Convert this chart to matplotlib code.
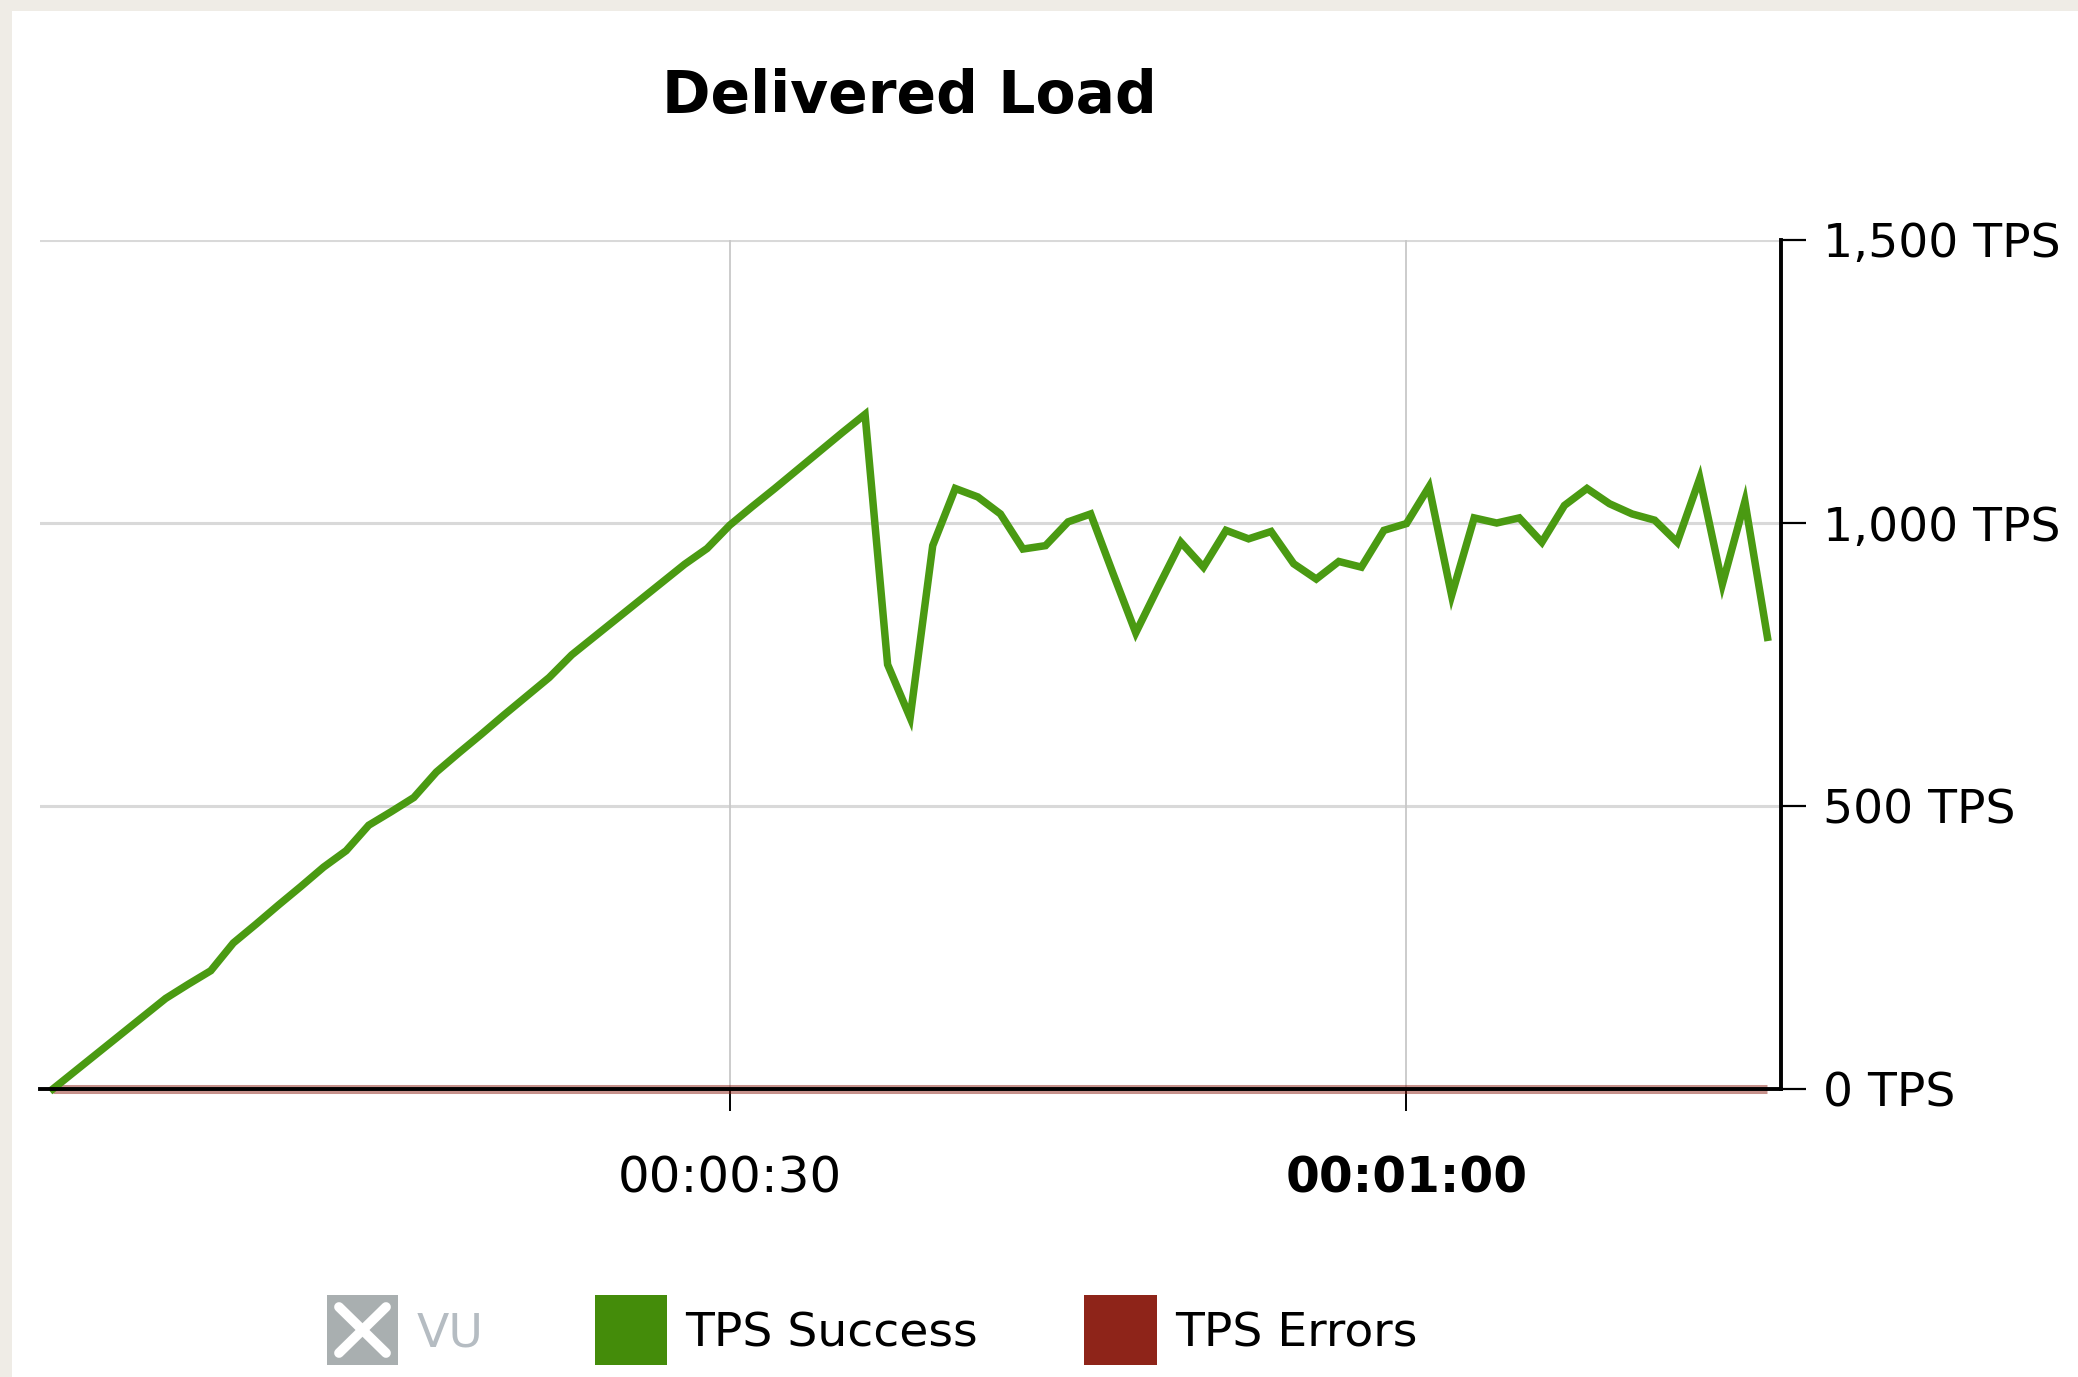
import matplotlib
matplotlib.use("Agg")
import matplotlib.pyplot as plt
from matplotlib.patches import Rectangle
from matplotlib.lines import Line2D
from matplotlib.ticker import FuncFormatter

# ---- data ----
seconds = list(range(77))
tps_success = [
    0, 32, 64, 96, 128, 160, 185, 209, 258, 291,
    325, 358, 392, 421, 466, 490, 515, 560, 594, 627,
    661, 694, 727, 767, 799, 831, 863, 895, 927, 955,
    996, 1029, 1061, 1094, 1127, 1160, 1192, 750, 656, 960,
    1061, 1046, 1016, 954, 960, 1002, 1016, 910, 806, 887,
    966, 922, 987, 972, 985, 928, 901, 932, 922, 987,
    999, 1064, 872, 1009, 1000, 1009, 966, 1031, 1061, 1034,
    1016, 1005, 966, 1079, 892, 1038, 798,
]
tps_errors = [0] * 77
y_ticks = [0, 500, 1000, 1500]
x_ticks = [30, 60]
x_tick_labels = ["00:00:30", "00:01:00"]
legend_labels = ["VU", "TPS Success", "TPS Errors"]
title = "Delivered Load"

W, H = 2078, 1377
GREEN = "#4A9A12"
RED = "#8E2419"
GRAY = "#A9AFB0"

fig = plt.figure(figsize=(W / 100, H / 100), dpi=100, facecolor="white")
plt.rcParams['font.family'] = ['DejaVu Sans']

def fx(px):
    return px / W

def fy(py):
    return 1 - py / H

# beige page border (left and top)
fig.add_artist(Rectangle((0, 0), fx(12), 1, transform=fig.transFigure,
                         facecolor="#EFECE6", edgecolor="none"))
fig.add_artist(Rectangle((0, fy(11)), 1, 11 / H, transform=fig.transFigure,
                         facecolor="#EFECE6", edgecolor="none"))

ax_l, ax_r, ax_t, ax_b = 40, 1781, 240, 1089
ax = fig.add_axes([fx(ax_l), fy(ax_b), (ax_r - ax_l) / W, (ax_b - ax_t) / H])
ax.set_facecolor("none")
ax.set_xlim(-0.57, 76.6)
ax.set_ylim(0, 1500)

# grid
for v in [500, 1000, 1500]:
    ax.axhline(v, color="#D9D9D9", lw=2.2, zorder=1)
for v in x_ticks:
    ax.axvline(v, color="#C8C8C8", lw=1.3, zorder=1)

# series
ax.plot(seconds, tps_errors, color=RED, lw=6.5, alpha=0.5, zorder=2,
        solid_capstyle="butt", clip_on=False)
ax.plot(seconds, tps_success, color=GREEN, lw=5.4, zorder=3,
        solid_joinstyle="miter", clip_on=False)

# spines
for s in ["top", "left"]:
    ax.spines[s].set_visible(False)
ax.spines["right"].set_color("black")
ax.spines["right"].set_linewidth(2.8)
ax.spines["bottom"].set_color("black")
ax.spines["bottom"].set_linewidth(2.8)
ax.spines["bottom"].set_zorder(4)

ax.yaxis.tick_right()
ax.set_yticks(y_ticks)
ax.yaxis.set_major_formatter(FuncFormatter(lambda v, p: f"{int(v):,} TPS"))
ax.tick_params(axis="y", which="major", direction="out", length=18, width=1.6,
               pad=12, labelsize=34, colors="black")
ax.set_xticks(x_ticks)
ax.set_xticklabels(x_tick_labels)
ax.tick_params(axis="x", which="major", direction="out", length=16, width=1.4,
               pad=31, labelsize=36, colors="black")
lbls = ax.get_xticklabels()
lbls[1].set_fontweight("bold")
lbls[1].set_fontsize(35)

# title
fig.text(fx(909), fy(97), title, ha="center", va="center",
         fontsize=42, fontweight="bold", color="black")

# legend (manual)
ly0, ly1 = 1295, 1365
lyc = (ly0 + ly1) / 2 + 4
boxes = [(327, 398, GRAY, 417, "#B5BCC2"),
         (595, 667, "#448C0A", 685, "black"),
         (1084, 1157, RED, 1175, "black")]
for (x0, x1, col, tx, tcol), lab in zip(boxes, legend_labels):
    fig.add_artist(Rectangle((fx(x0), fy(ly1)), (x1 - x0) / W, (ly1 - ly0) / H,
                             transform=fig.transFigure, facecolor=col,
                             edgecolor="none"))
    fig.text(fx(tx), fy(lyc), lab, ha="left", va="center", fontsize=34,
             color=tcol)
# white X on VU icon
m = 12
fig.add_artist(Line2D([fx(327 + m), fx(398 - m)], [fy(ly1 - m), fy(ly0 + m)],
                      transform=fig.transFigure, color="white", lw=7,
                      solid_capstyle="round"))
fig.add_artist(Line2D([fx(327 + m), fx(398 - m)], [fy(ly0 + m), fy(ly1 - m)],
                      transform=fig.transFigure, color="white", lw=7,
                      solid_capstyle="round"))

fig.savefig("out.png", dpi=100, facecolor="white")
